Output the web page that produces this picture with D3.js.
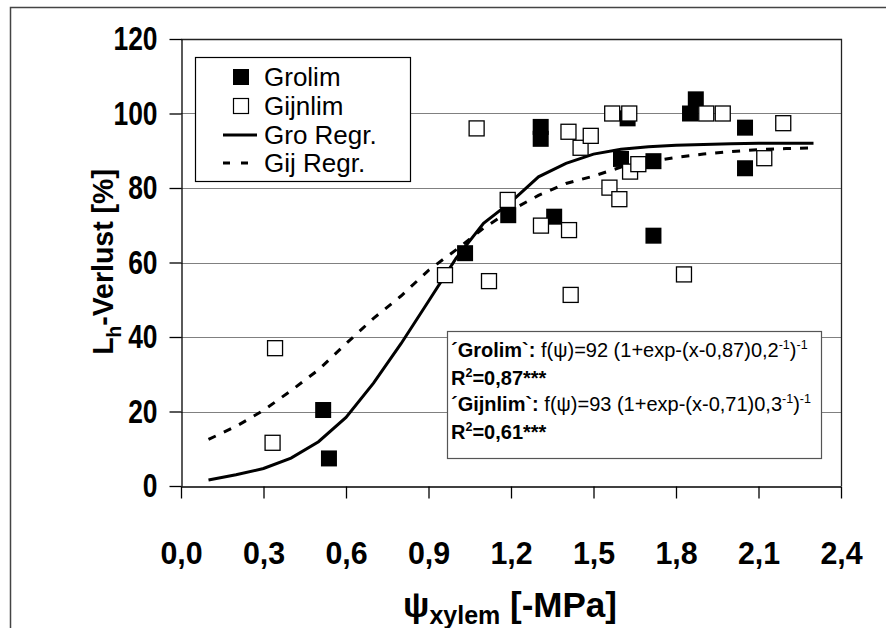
<!DOCTYPE html>
<html>
<head>
<meta charset="utf-8">
<script src="https://cdn.jsdelivr.net/npm/d3@7"></script>
<style>
  body { margin: 0; background: #fff; }
  svg { display: block; font-family: "Liberation Sans", Arial, sans-serif; }
</style>
</head>
<body>
<div id="chart"></div>
<script>
// Grolim (filled squares)
const groX = [0.517, 0.538, 1.033, 1.19, 1.308, 1.308, 1.357, 1.60, 1.624, 1.718, 1.718, 1.851, 1.872, 2.051, 2.051];
const groY = [20.4, 7.4, 62.5, 72.7, 96.4, 93.2, 72.3, 87.8, 98.7, 87.2, 67.2, 100, 103.8, 96.2, 85.3];

// Gijnlim (open squares)
const gijX = [0.333, 0.342, 0.96, 1.075, 1.12, 1.188, 1.309, 1.409, 1.411, 1.417, 1.453, 1.49, 1.558, 1.568, 1.594, 1.63, 1.633, 1.663, 1.829, 1.91, 1.97, 2.121, 2.19];
const gijY = [11.6, 37.0, 56.6, 96.0, 55.0, 76.8, 69.9, 95.1, 68.7, 51.3, 90.8, 94.0, 80.1, 100, 77.0, 100, 84.4, 86.4, 56.8, 100, 100, 88.0, 97.4];

// regression curves
const curveX = [0.1, 0.2, 0.3, 0.4, 0.5, 0.6, 0.7, 0.8, 0.9, 1.0, 1.1, 1.2, 1.3, 1.4, 1.5, 1.6, 1.7, 1.8, 1.9, 2.0, 2.1, 2.2, 2.3];
const groFit = [1.6, 3.0, 4.7, 7.5, 11.9, 18.4, 27.6, 38.2, 49.6, 61.1, 70.5, 76.3, 83.0, 86.6, 89.1, 90.4, 91.1, 91.5, 91.7, 91.9, 92.0, 92.0, 92.0];
const gijFit = [12.5, 16.0, 20.3, 25.6, 31.2, 38.2, 45.0, 51.0, 57.9, 63.4, 69.2, 74.0, 78.0, 81.2, 83.2, 85.6, 87.0, 88.2, 89.1, 89.8, 90.3, 90.6, 90.8];

const xTicks = [0, 0.3, 0.6, 0.9, 1.2, 1.5, 1.8, 2.1, 2.4];
const yTicks = [0, 20, 40, 60, 80, 100, 120];
const legendLabels = ["Grolim", "Gijnlim", "Gro Regr.", "Gij Regr."];

function main() {
    const width = 886, height = 628;
    const svg = d3.select('#chart').append('svg')
        .attr('width', width)
        .attr('height', height);

    // outer frame (top and left only)
    svg.append('path')
        .attr('d', `M10.5,${height} V7.5 H${width}`)
        .attr('fill', 'none')
        .attr('stroke', '#444')
        .attr('stroke-width', 1.5);

    const x = d3.scaleLinear().domain([0, 2.4]).range([181, 841]);
    const y = d3.scaleLinear().domain([0, 120]).range([486, 39]);

    // grid lines
    svg.append('g')
        .selectAll('line')
        .data(yTicks.filter(d => d > 0 && d < 120))
        .enter()
        .append('line')
        .attr('x1', x(0)).attr('x2', x(2.4))
        .attr('y1', d => Math.round(y(d)) + 0.5).attr('y2', d => Math.round(y(d)) + 0.5)
        .attr('stroke', '#808080')
        .attr('stroke-width', 1.2);

    // plot border top + right
    svg.append('path')
        .attr('d', `M${x(0)},${y(120) + 0.5} H${x(2.4) + 0.5} V${y(0)}`)
        .attr('fill', 'none')
        .attr('stroke', '#222')
        .attr('stroke-width', 1.3);

    const fmt = d => d3.format('.1f')(d).replace('.', ',');
    const sxX = 0.95, sxY = 0.8;

    const xAxis = svg.append('g')
        .attr('transform', `translate(0,${y(0) + 0.5})`)
        .call(d3.axisBottom(x).tickValues(xTicks).tickFormat(fmt).tickSize(12).tickPadding(54).tickSizeOuter(0));

    const yAxis = svg.append('g')
        .attr('transform', `translate(${x(0) + 0.5},0)`)
        .call(d3.axisLeft(y).tickValues(yTicks).tickSize(12).tickPadding(12).tickSizeOuter(0));

    [xAxis, yAxis].forEach(a => {
        a.selectAll('.domain').attr('stroke', '#000').attr('stroke-width', 1.3);
        a.selectAll('.tick line').attr('stroke', '#000').attr('stroke-width', 1.3);
        a.selectAll('.tick text')
            .attr('fill', '#000')
            .style('font-family', '"Liberation Sans", Arial, sans-serif')
            .style('font-weight', 'bold');
    });
    xAxis.selectAll('.tick text')
        .attr('dy', '0.35em')
        .attr('transform', `scale(${sxX},1)`)
        .style('font-size', '32px');
    yAxis.selectAll('.tick text')
        .attr('x', -24 / sxY)
        .attr('transform', `scale(${sxY},1)`)
        .style('font-size', '33px');

    // regression lines
    const line = d3.line()
        .x((d, i) => x(curveX[i]))
        .y(d => y(d));

    svg.append('path')
        .datum(gijFit)
        .attr('d', line)
        .attr('fill', 'none')
        .attr('stroke', '#000')
        .attr('stroke-width', 3)
        .attr('stroke-dasharray', '8,9');

    svg.append('path')
        .datum(groFit)
        .attr('d', line)
        .attr('fill', 'none')
        .attr('stroke', '#000')
        .attr('stroke-width', 3);

    const size = 16;
    svg.append('g')
        .selectAll('rect')
        .data(groX.map((v, i) => [v, groY[i]]))
        .enter()
        .append('rect')
        .attr('x', d => x(d[0]) - size / 2)
        .attr('y', d => y(d[1]) - size / 2)
        .attr('width', size).attr('height', size)
        .attr('fill', '#000');

    svg.append('g')
        .selectAll('rect')
        .data(gijX.map((v, i) => [v, gijY[i]]))
        .enter()
        .append('rect')
        .attr('x', d => x(d[0]) - (size - 1) / 2)
        .attr('y', d => y(d[1]) - (size - 1) / 2)
        .attr('width', size - 1).attr('height', size - 1)
        .attr('fill', '#fff')
        .attr('stroke', '#000')
        .attr('stroke-width', 1.3);

    // legend
    const lg = svg.append('g');
    lg.append('rect')
        .attr('x', 195.5).attr('y', 57.5)
        .attr('width', 215).attr('height', 124)
        .attr('fill', '#fff')
        .attr('stroke', '#000')
        .attr('stroke-width', 1.2);
    const rowY = [77, 106, 135, 163];
    lg.append('rect').attr('x', 233).attr('y', rowY[0] - 8).attr('width', 16).attr('height', 16).attr('fill', '#000');
    lg.append('rect').attr('x', 233.5).attr('y', rowY[1] - 7.5).attr('width', 15).attr('height', 15)
        .attr('fill', '#fff').attr('stroke', '#000').attr('stroke-width', 1.2);
    lg.append('line').attr('x1', 223).attr('x2', 257).attr('y1', rowY[2]).attr('y2', rowY[2])
        .attr('stroke', '#000').attr('stroke-width', 3);
    lg.append('line').attr('x1', 223).attr('x2', 257).attr('y1', rowY[3]).attr('y2', rowY[3])
        .attr('stroke', '#000').attr('stroke-width', 3).attr('stroke-dasharray', '7,11');
    lg.selectAll('text.lab')
        .data(legendLabels)
        .enter()
        .append('text')
        .attr('class', 'lab')
        .attr('x', 264)
        .attr('y', (d, i) => rowY[i])
        .attr('dy', '0.36em')
        .style('font-size', '26px')
        .text(d => d);

    // equation box
    const eq = svg.append('g');
    eq.append('rect')
        .attr('x', 447.5).attr('y', 331.5)
        .attr('width', 374).attr('height', 127)
        .attr('fill', '#fff')
        .attr('stroke', '#555')
        .attr('stroke-width', 1.2);

    const fs = '20px', fsSup = '12.5px';
    function eqLine(yPos, name, a, b, c) {
        const t = eq.append('text').attr('x', 451).attr('y', yPos).style('font-size', fs);
        t.append('tspan').style('font-weight', 'bold').text(`´${name}\`:`);
        t.append('tspan').text(` f(ψ)=${a} (1+exp-(x-${b})${c}`);
        t.append('tspan').attr('dy', -8).style('font-size', fsSup).text('-1');
        t.append('tspan').attr('dy', 8).text(')');
        t.append('tspan').attr('dy', -8).style('font-size', fsSup).text('-1');
    }
    function r2Line(yPos, v) {
        const t = eq.append('text').attr('x', 451).attr('y', yPos)
            .style('font-size', fs).style('font-weight', 'bold');
        t.append('tspan').text('R');
        t.append('tspan').attr('dy', -8).style('font-size', fsSup).text('2');
        t.append('tspan').attr('dy', 8).text(`=${v}***`);
    }
    eqLine(357, 'Grolim', '92', '0,87', '0,2');
    r2Line(385, '0,87');
    eqLine(411, 'Gijnlim', '93', '0,71', '0,3');
    r2Line(439, '0,61');

    // axis titles
    const yt = svg.append('text')
        .attr('transform', 'translate(113,262) rotate(-90) scale(0.95,1)')
        .attr('text-anchor', 'middle')
        .style('font-size', '30px')
        .style('font-weight', 'bold');
    yt.append('tspan').text('L');
    yt.append('tspan').attr('dy', 8).style('font-size', '20px').text('h');
    yt.append('tspan').attr('dy', -8).text('-Verlust [%]');

    const xt = svg.append('text')
        .attr('x', 510).attr('y', 617)
        .attr('text-anchor', 'middle')
        .style('font-size', '35px')
        .style('font-weight', 'bold');
    xt.append('tspan').text('ψ');
    xt.append('tspan').attr('dy', 7).style('font-size', '25px').text('xylem');
    xt.append('tspan').attr('dy', -7).text(' [-MPa]');
}

main();
</script>
</body>
</html>
